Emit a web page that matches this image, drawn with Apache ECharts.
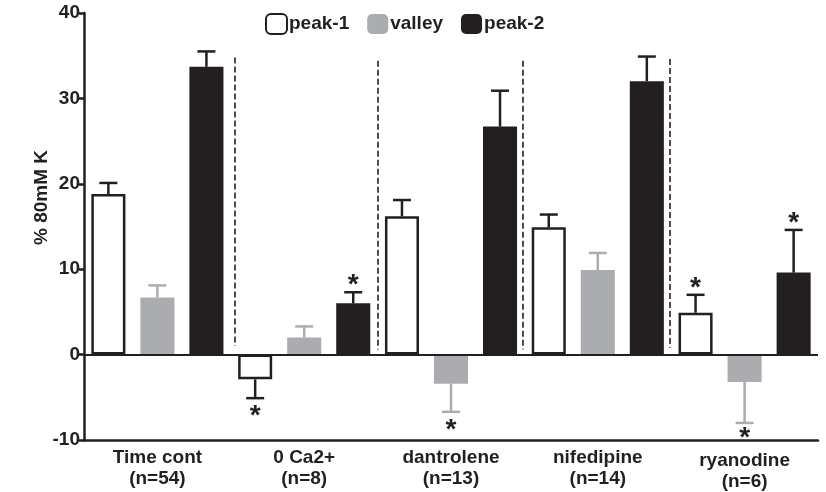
<!DOCTYPE html>
<html><head><meta charset="utf-8">
<script src="https://cdn.jsdelivr.net/npm/echarts@6/dist/echarts.min.js"></script>
<style>html,body{margin:0;padding:0;background:#fff}#c{width:826px;height:492px}</style>
</head><body><div id="c"></div>
<script>
const categories = ['Time cont\n(n=54)', '0 Ca2+\n(n=8)', 'dantrolene\n(n=13)', 'nifedipine\n(n=14)', 'ryanodine\n(n=6)'];
const seriesNames = ['peak-1', 'valley', 'peak-2'];
const peak1 = [18.8, -2.9, 16.2, 14.9, 4.9];
const valley = [6.7, 2.0, -3.4, 9.9, -3.2];
const peak2 = [33.7, 6.0, 26.7, 32.0, 9.6];
const peak1Err = [1.3, 2.2, 1.9, 1.5, 2.1];
const valleyErr = [1.4, 1.3, 3.3, 2.0, 4.8];
const peak2Err = [1.8, 1.3, 4.2, 2.9, 5.0];
const peak1Star = [0, 1, 0, 0, 1];
const valleyStar = [0, 0, 1, 0, 1];
const peak2Star = [0, 1, 0, 0, 1];
const dividerX = [1.03, 2, 2.99, 3.99];
const dividerTop = [34.8, 34.4, 34.4, 34.6];
const dividerBottom = [1.0, 0.6, 0.6, 0.8];
const yTicks = [-10, 0, 10, 20, 30, 40];

const BLACK = '#231f20', GRAY = '#abacb0';
const FONT = 'Liberation Sans, Arial, sans-serif';

const errData = [];
[[peak1, peak1Err, peak1Star], [valley, valleyErr, valleyStar], [peak2, peak2Err, peak2Star]].forEach((s, si) => {
  s[0].forEach((v, ci) => errData.push([ci, si, v, s[1][ci], s[2][ci]]));
});

const chart = echarts.init(document.getElementById('c'));
chart.setOption({
  animation: false,
  backgroundColor: '#fff',
  textStyle: { fontFamily: FONT },
  grid: { left: 84, right: 8, top: 13, bottom: 52 },
  legend: {
    data: seriesNames,
    top: 8, left: 260,
    itemWidth: 21, itemHeight: 20, itemGap: 18,
    textStyle: { fontFamily: FONT, fontWeight: 'bold', fontSize: 19, color: BLACK, padding: [0, 0, 0, -3] },
    selectedMode: false
  },
  xAxis: [{
    type: 'category', data: categories,
    axisLine: { onZero: false, lineStyle: { color: BLACK, width: 2.5 } },
    axisTick: { show: false },
    axisLabel: {
      interval: 0, margin: 7, color: BLACK, fontFamily: FONT, fontWeight: 'bold', fontSize: 19, lineHeight: 21,
      formatter: function (v, i) { return i === 4 ? '{r|' + v.split('\n')[0] + '}\n{r|' + v.split('\n')[1] + '}' : v; },
      rich: { r: { fontFamily: FONT, fontWeight: 'bold', fontSize: 19, lineHeight: 21, color: BLACK, padding: [6, 0, 0, 0] } }
    }
  }, {
    type: 'value', min: 0, max: 5, show: false
  }],
  yAxis: {
    type: 'value', min: yTicks[0], max: yTicks[yTicks.length - 1], interval: 10,
    name: '% 80mM K', nameLocation: 'middle', nameGap: 33, nameRotate: 90, nameMoveOverlap: false,
    nameTextStyle: { fontFamily: FONT, fontWeight: 'bold', fontSize: 19, color: BLACK, padding: [0, 0, 0, 58] },
    axisLine: { show: true, lineStyle: { color: BLACK, width: 2.5 } },
    axisTick: { show: true, length: 5, lineStyle: { color: BLACK, width: 2.5 } },
    splitLine: { show: false },
    axisLabel: { color: BLACK, fontFamily: FONT, fontWeight: 'bold', fontSize: 19, margin: 4 }
  },
  series: [
    {
      name: 'peak-1', type: 'bar', data: peak1, barGap: '44%', barCategoryGap: '10%',
      itemStyle: { color: '#fff', borderColor: BLACK, borderWidth: 2.5 },
      markLine: {
        silent: true, symbol: 'none', label: { show: false },
        lineStyle: { color: BLACK, width: 2, type: 'solid' },
        data: [{ yAxis: 0 }]
      }
    },
    { name: 'valley', type: 'bar', data: valley, itemStyle: { color: GRAY } },
    { name: 'peak-2', type: 'bar', data: peak2, itemStyle: { color: BLACK } },
    {
      type: 'custom', name: 'err', z: 5, data: errData,
      encode: { x: 0, y: 2 },
      renderItem: function (params, api) {
        const ci = api.value(0), si = api.value(1), v = api.value(2), e = api.value(3), star = api.value(4);
        const band = api.size([1, 0])[0];
        const off = (si - 1) * band * 0.334;
        const base = api.coord([ci, v]);
        const end = api.coord([ci, v >= 0 ? v + e : v - e]);
        const x = base[0] + off;
        const col = si === 1 ? GRAY : BLACK;
        const ch = [
          { type: 'line', shape: { x1: x, y1: base[1], x2: x, y2: end[1] }, style: { stroke: col, lineWidth: 2.5 } },
          { type: 'line', shape: { x1: x - 9, y1: end[1], x2: x + 9, y2: end[1] }, style: { stroke: col, lineWidth: 2.5 } }
        ];
        if (star) {
          const up = v >= 0;
          ch.push({
            type: 'text',
            style: {
              text: '*', x: x, y: up ? end[1] + 7 : end[1] + (si === 1 && ci === 4 ? 1 : 4),
              align: 'center', verticalAlign: up ? 'bottom' : 'top',
              font: 'bold 28px ' + FONT, fill: BLACK
            }
          });
        }
        return { type: 'group', children: ch };
      }
    },
    {
      type: 'line', xAxisIndex: 1, data: [], silent: true,
      markLine: {
        silent: true, symbol: 'none', label: { show: false },
        lineStyle: { color: BLACK, width: 1.6, type: [6, 3] },
        data: dividerX.map((d, i) => [{ coord: [d, dividerTop[i]] }, { coord: [d, dividerBottom[i]] }])
      }
    }
  ]
});
</script></body></html>
